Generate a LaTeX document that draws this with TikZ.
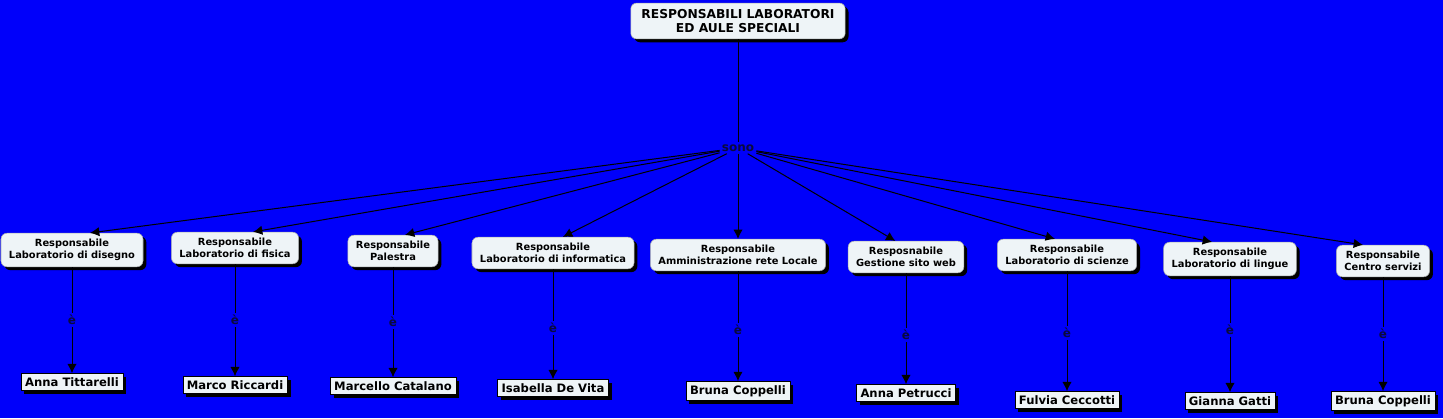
\documentclass[tikz,border=0pt]{standalone}
\usepackage{fontspec}
\setmainfont{DejaVu Sans}
\definecolor{MapBlue}{RGB}{0,0,250}
\definecolor{BoxWhite}{RGB}{238,244,247}
\definecolor{LinkNavy}{RGB}{10,10,60}
\usetikzlibrary{shapes,arrows.meta,positioning,shadows}

\tikzset{
  concept/.style={draw=BoxWhite!70!black, line width=0.4pt, fill=BoxWhite,
    rounded corners=4.5pt, align=center, inner xsep=6pt, inner ysep=4.5pt,
    font=\bfseries\fontsize{7.4}{9}\selectfont,
    drop shadow={shadow xshift=2.5pt, shadow yshift=-2.5pt, opacity=1, fill=black}},
  person/.style={draw=black, line width=0.4pt, fill=BoxWhite,
    inner xsep=3pt, inner ysep=3pt,
    font=\bfseries\fontsize{8.7}{10}\selectfont,
    drop shadow={shadow xshift=2.5pt, shadow yshift=-2.5pt, opacity=1, fill=black}},
  linkword/.style={text=LinkNavy, inner sep=1.5pt,
    font=\bfseries\fontsize{9}{10}\selectfont},
  link/.style={draw=black, line width=0.75pt},
  linkarrow/.style={link, -{Latex[length=7pt,width=7pt]}}
}

\begin{document}
\begin{tikzpicture}[x=0.75pt,y=-0.75pt]
    \useasboundingbox[fill=MapBlue] (0,0) rectangle (1443,418);

    % Root concept
    \node[concept, inner xsep=8pt, font=\bfseries\fontsize{9.2}{11}\selectfont] (root) at (738,21)
        {RESPONSABILI LABORATORI\\ED AULE SPECIALI};
    \node[linkword] (sono) at (738,148) {sono};

    % Roles
    \node[concept] (disegno) at (72,250) {Responsabile\\Laboratorio di disegno};
    \node[concept] (fisica) at (235,248) {Responsabile\\Laboratorio di fisica};
    \node[concept] (palestra) at (393,251) {Responsabile\\Palestra};
    \node[concept] (informatica) at (553,253) {Responsabile\\Laboratorio di informatica};
    \node[concept] (rete) at (738,255) {Responsabile\\Amministrazione rete Locale};
    \node[concept] (web) at (906,257) {Resposnabile\\Gestione sito web};
    \node[concept] (scienze) at (1067,255) {Responsabile\\Laboratorio di scienze};
    \node[concept] (lingue) at (1230,259) {Responsabile\\Laboratorio di lingue};
    \node[concept] (servizi) at (1383,261) {Responsabile\\Centro servizi};

    % Link words
    \node[linkword] (e1) at (72,320) {è};
    \node[linkword] (e2) at (235,320) {è};
    \node[linkword] (e3) at (393,322) {è};
    \node[linkword] (e4) at (553,328) {è};
    \node[linkword] (e5) at (738,330) {è};
    \node[linkword] (e6) at (906,335) {è};
    \node[linkword] (e7) at (1067,333) {è};
    \node[linkword] (e8) at (1230,330) {è};
    \node[linkword] (e9) at (1383,334) {è};

    % Names
    \node[person] (tittarelli) at (72,382) {Anna Tittarelli};
    \node[person] (riccardi) at (235,385) {Marco Riccardi};
    \node[person] (catalano) at (393,386) {Marcello Catalano};
    \node[person] (devita) at (553,388) {Isabella De Vita};
    \node[person] (coppelliA) at (738,391) {Bruna Coppelli};
    \node[person] (petrucci) at (906,393) {Anna Petrucci};
    \node[person] (ceccotti) at (1067,400) {Fulvia Ceccotti};
    \node[person] (gatti) at (1230,401) {Gianna Gatti};
    \node[person] (coppelliB) at (1383,401) {Bruna Coppelli};

    % Connectors
    \draw[link] (root) -- (sono);
    \draw[linkarrow] (sono) -- ([xshift=13.5pt]disegno.north);
    \draw[linkarrow] (sono) -- ([xshift=13.5pt]fisica.north);
    \draw[linkarrow] (sono) -- ([xshift=9pt]palestra.north);
    \draw[linkarrow] (sono) -- ([xshift=7.5pt]informatica.north);
    \draw[linkarrow] (sono) -- (rete.north);
    \draw[linkarrow] (sono) -- ([xshift=-8pt]web.north);
    \draw[linkarrow] (sono) -- ([xshift=-9pt]scienze.north);
    \draw[linkarrow] (sono) -- ([xshift=-13.5pt]lingue.north);
    \draw[linkarrow] (sono) -- ([xshift=-15pt]servizi.north);

    \draw[link] (disegno) -- (e1);
    \draw[linkarrow] (e1) -- (tittarelli);
    \draw[link] (fisica) -- (e2);
    \draw[linkarrow] (e2) -- (riccardi);
    \draw[link] (palestra) -- (e3);
    \draw[linkarrow] (e3) -- (catalano);
    \draw[link] (informatica) -- (e4);
    \draw[linkarrow] (e4) -- (devita);
    \draw[link] (rete) -- (e5);
    \draw[linkarrow] (e5) -- (coppelliA);
    \draw[link] (web) -- (e6);
    \draw[linkarrow] (e6) -- (petrucci);
    \draw[link] (scienze) -- (e7);
    \draw[linkarrow] (e7) -- (ceccotti);
    \draw[link] (lingue) -- (e8);
    \draw[linkarrow] (e8) -- (gatti);
    \draw[link] (servizi) -- (e9);
    \draw[linkarrow] (e9) -- (coppelliB);
\end{tikzpicture}
\end{document}
